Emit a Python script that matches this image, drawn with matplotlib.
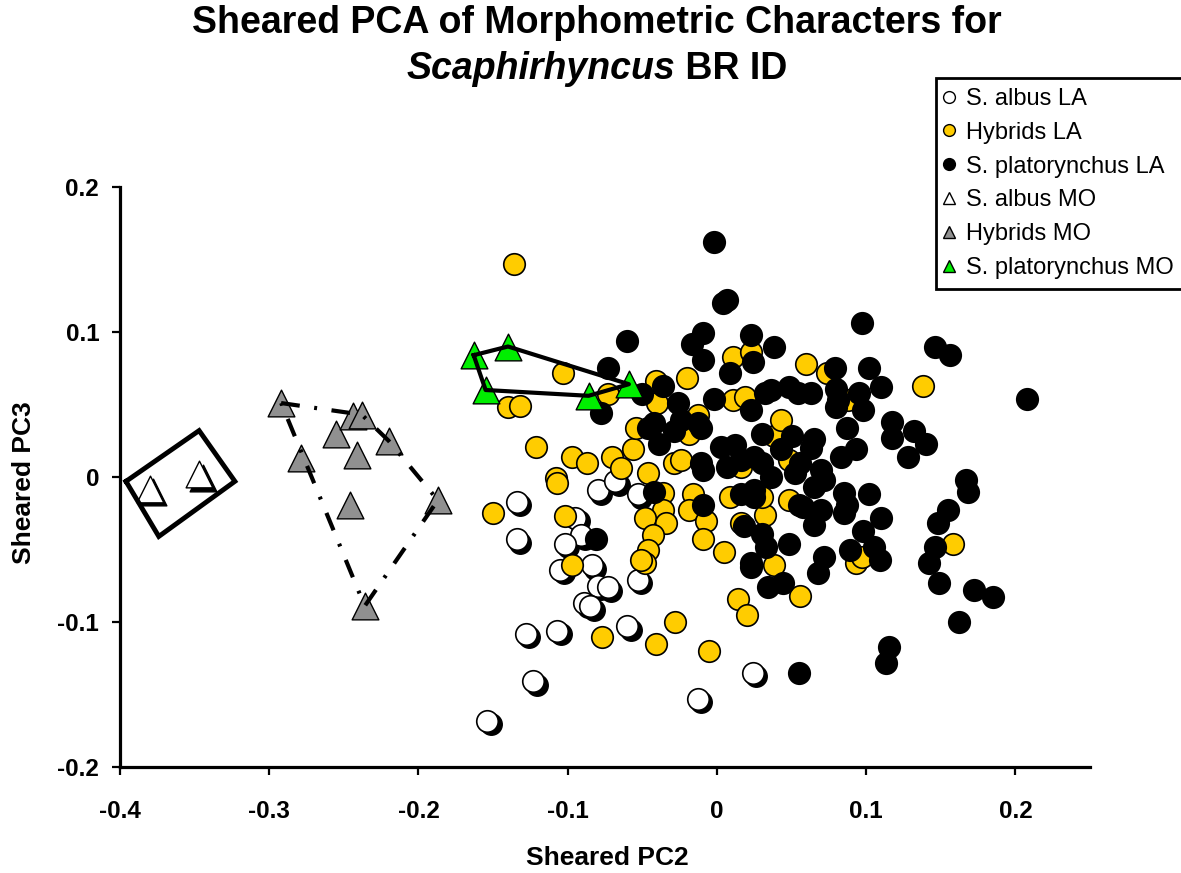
import numpy as np
import matplotlib
matplotlib.use("Agg")
import matplotlib.pyplot as plt
import matplotlib.transforms as mtransforms
from matplotlib.lines import Line2D
from matplotlib.ticker import FixedLocator, FixedFormatter

plt.rcParams['font.family'] = ['Liberation Sans', 'DejaVu Sans']

# --- data (Sheared PC2, Sheared PC3) ---
albus_la_x = [-0.134, -0.134, -0.095, -0.091, -0.102, -0.105, -0.084, -0.080, -0.073, -0.089,
              -0.085, -0.080, -0.068, -0.053, -0.053, -0.128, -0.107, -0.060, -0.123, -0.154,
              -0.013, 0.024]
albus_la_y = [-0.017, -0.043, -0.028, -0.040, -0.046, -0.064, -0.061, -0.075, -0.076, -0.087,
              -0.089, -0.009, -0.003, -0.012, -0.071, -0.108, -0.106, -0.103, -0.141, -0.168,
              -0.153, -0.135]

hyb_la_x = [-0.136, -0.103, -0.140, -0.132, -0.121, -0.097, -0.087, -0.070, -0.064, -0.056,
            -0.046, -0.073, -0.041, -0.020, -0.040, -0.054, -0.029, -0.024, 0.011, 0.023,
            0.060, 0.074, 0.011, 0.019, -0.013, -0.019, -0.108, 0.038, 0.043, 0.016,
            0.048, -0.036, -0.036, -0.048, -0.034, -0.043, -0.046, -0.048, -0.016, -0.019,
            -0.007, -0.009, 0.005, 0.009, 0.032, 0.048, 0.038, 0.014, 0.020, 0.056,
            -0.028, -0.077, -0.041, -0.005, -0.150, -0.107, -0.102, -0.097, 0.088, 0.138,
            0.158, 0.093, 0.097, 0.030, 0.016, -0.051]
hyb_la_y = [0.147, 0.072, 0.048, 0.049, 0.021, 0.014, 0.010, 0.014, 0.006, 0.019,
            0.003, 0.057, 0.066, 0.068, 0.051, 0.034, 0.010, 0.012, 0.083, 0.086,
            0.078, 0.072, 0.053, 0.055, 0.043, 0.030, -0.001, 0.028, 0.039, 0.007,
            0.012, -0.011, -0.023, -0.028, -0.032, -0.040, -0.050, -0.059, -0.012, -0.023,
            -0.030, -0.043, -0.052, -0.014, -0.026, -0.016, -0.061, -0.084, -0.095, -0.082,
            -0.100, -0.110, -0.115, -0.120, -0.025, -0.004, -0.027, -0.061, 0.053, 0.063,
            -0.046, -0.059, -0.055, -0.014, -0.032, -0.057]

plat_la_x = [-0.002, 0.004, 0.007, -0.060, -0.009, -0.017, -0.009, 0.023, 0.038, 0.009,
             0.024, -0.073, -0.078, -0.050, -0.036, -0.002, -0.026, -0.024, -0.046, -0.039,
             -0.011, 0.023, 0.036, 0.048, 0.063, 0.079, 0.080, 0.030, 0.050, 0.043,
             0.065, 0.003, -0.011, 0.007, 0.025, 0.056, 0.097, 0.146, 0.156, 0.208,
             0.102, 0.110, 0.080, 0.098, 0.087, 0.117, 0.117, 0.132, 0.140, 0.128,
             0.093, 0.083, 0.167, 0.168, 0.155, 0.148, 0.146, 0.142, 0.149, 0.172,
             0.185, 0.162, 0.115, 0.113, 0.102, 0.110, 0.087, 0.098, 0.089, 0.109,
             0.072, 0.068, 0.065, 0.070, 0.058, 0.055, -0.081, -0.042, -0.009, 0.016,
             0.025, 0.018, 0.030, 0.033, 0.023, 0.048, 0.034, 0.044, 0.055, 0.065,
             0.036, 0.052, 0.072, 0.063, 0.081, 0.085, 0.070, 0.085, 0.012,
             -0.042, -0.029, -0.013, 0.016, 0.032, 0.054, 0.095, 0.030, 0.025, -0.009,
             0.105, 0.023]
plat_la_y = [0.162, 0.120, 0.122, 0.094, 0.099, 0.092, 0.081, 0.098, 0.090, 0.072,
             0.079, 0.075, 0.044, 0.057, 0.063, 0.054, 0.051, 0.039, 0.034, 0.023,
             0.034, 0.046, 0.060, 0.062, 0.058, 0.075, 0.048, 0.030, 0.028, 0.019,
             0.026, 0.021, 0.010, 0.007, 0.014, 0.010, 0.106, 0.090, 0.084, 0.054,
             0.075, 0.062, 0.061, 0.046, 0.034, 0.038, 0.027, 0.032, 0.023, 0.014,
             0.019, 0.014, -0.002, -0.010, -0.023, -0.032, -0.048, -0.059, -0.073, -0.078,
             -0.083, -0.100, -0.117, -0.128, -0.012, -0.028, -0.019, -0.037, -0.050, -0.057,
             -0.055, -0.066, -0.007, 0.005, -0.021, -0.135, -0.043, -0.010, -0.019, -0.012,
             -0.014, -0.034, -0.039, -0.048, -0.062, -0.046, -0.076, -0.073, -0.019, -0.033,
             0.000, 0.003, -0.002, 0.020, 0.053, -0.011, -0.023, -0.025, 0.022,
             0.037, 0.032, 0.037, 0.012, 0.058, 0.058, 0.058, 0.010, -0.009, 0.005,
             -0.048, -0.059]

albus_mo_x = [-0.380, -0.347]
albus_mo_y = [-0.008, 0.002]

hyb_mo_x = [-0.292, -0.279, -0.255, -0.244, -0.238, -0.241, -0.220, -0.246, -0.187, -0.236]
hyb_mo_y = [0.051, 0.013, 0.030, 0.042, 0.043, 0.015, 0.025, -0.019, -0.016, -0.089]
hyb_mo_hull = [0, 4, 6, 8, 9, 0]

plat_mo_x = [-0.163, -0.140, -0.155, -0.086, -0.059]
plat_mo_y = [0.084, 0.090, 0.060, 0.056, 0.064]
plat_mo_hull = [0, 1, 4, 3, 2, 0]

albus_mo_box_x = [-0.396, -0.347, -0.323, -0.374, -0.396]
albus_mo_box_y = [-0.003, 0.032, -0.003, -0.041, -0.003]

xticks = [-0.4, -0.3, -0.2, -0.1, 0.0, 0.1, 0.2]
xtick_labels = ['-0.4', '-0.3', '-0.2', '-0.1', '0', '0.1', '0.2']
yticks = [-0.2, -0.1, 0.0, 0.1, 0.2]
ytick_labels = ['-0.2', '-0.1', '0', '0.1', '0.2']

legend_labels = ['S. albus LA', 'Hybrids LA', 'S. platorynchus LA',
                 'S. albus MO', 'Hybrids MO', 'S. platorynchus MO']

W, H = 1181, 873
fig = plt.figure(figsize=(W / 100, H / 100), dpi=100)
ax = fig.add_axes([120 / W, 1 - 767 / H, 970 / W, 580 / H])

yellow = '#FFCC00'
green = '#00EE00'
gray = '#909090'
circ_s = 240
tri_s = 370

shadow = mtransforms.offset_copy(ax.transData, fig=fig, x=3.5, y=-3.5, units='dots')

# circles (LA)
ax.scatter(albus_la_x, albus_la_y, s=circ_s, c='black', edgecolors='black',
           linewidths=1, transform=shadow, zorder=2)
ax.scatter(albus_la_x, albus_la_y, s=circ_s, c='white', edgecolors='black',
           linewidths=1.2, zorder=2.1)
ax.scatter(hyb_la_x, hyb_la_y, s=circ_s, c=yellow, edgecolors='black',
           linewidths=1.2, zorder=3)
ax.scatter(plat_la_x, plat_la_y, s=circ_s, c='black', edgecolors='black',
           linewidths=1.2, zorder=4)

# triangles (MO)
ax.scatter(albus_mo_x, albus_mo_y, s=tri_s, marker='^', c='black', edgecolors='black',
           linewidths=1, transform=shadow, zorder=5)
ax.scatter(albus_mo_x, albus_mo_y, s=tri_s, marker='^', c='white', edgecolors='black',
           linewidths=1, zorder=5.1)
ax.scatter(hyb_mo_x, hyb_mo_y, s=tri_s, marker='^', c=gray, edgecolors='black',
           linewidths=1, zorder=5.2)
ax.scatter(plat_mo_x, plat_mo_y, s=tri_s, marker='^', c=green, edgecolors='black',
           linewidths=1, zorder=5.3)

# enclosing outlines
ax.plot(albus_mo_box_x, albus_mo_box_y, color='black', lw=3.5, zorder=6,
        solid_joinstyle='miter')
ax.plot([hyb_mo_x[i] for i in hyb_mo_hull], [hyb_mo_y[i] for i in hyb_mo_hull],
        color='black', lw=3, linestyle=(0, (4.5, 3.5, 0.7, 3.5)), zorder=6)
ax.plot([plat_mo_x[i] for i in plat_mo_hull], [plat_mo_y[i] for i in plat_mo_hull],
        color='black', lw=3, zorder=6)

ax.set_xlim(-0.4, 0.25)
ax.set_ylim(-0.2, 0.2)
ax.xaxis.set_major_locator(FixedLocator(xticks))
ax.xaxis.set_major_formatter(FixedFormatter(xtick_labels))
ax.yaxis.set_major_locator(FixedLocator(yticks))
ax.yaxis.set_major_formatter(FixedFormatter(ytick_labels))
for side in ['top', 'right']:
    ax.spines[side].set_visible(False)
for side in ['left', 'bottom']:
    ax.spines[side].set_linewidth(2.3)
ax.tick_params(axis='both', direction='out', length=6, width=1.6,
               labelsize=17.5)
ax.tick_params(axis='x', pad=18)
ax.tick_params(axis='y', pad=9)
for lab in ax.get_xticklabels() + ax.get_yticklabels():
    lab.set_fontweight('bold')

ax.set_xlabel('Sheared PC2', fontsize=19, fontweight='bold')
ax.set_ylabel('Sheared PC3', fontsize=19, fontweight='bold')
ax.xaxis.set_label_coords((607 - 120) / 970, (767 - 846) / 580)
ax.yaxis.set_label_coords((36 - 120) / 970, 0.49)

# title
cx = 597 / W
fig.text(cx, 1 - 33 / H, 'Sheared PCA of Morphometric Characters for',
         ha='center', va='baseline', fontsize=27, fontweight='bold')
t1 = fig.text(0, 1 - 79 / H, 'Scaphirhyncus', ha='left', va='baseline',
              fontsize=27, fontweight='bold', style='italic')
t2 = fig.text(0, 1 - 79 / H, ' BR ID', ha='left', va='baseline',
              fontsize=27, fontweight='bold')
fig.canvas.draw()
r = fig.canvas.get_renderer()
w1 = t1.get_window_extent(r).width
w2 = t2.get_window_extent(r).width
start = cx * W - (w1 + w2) / 2
t1.set_x(start / W)
t2.set_x((start + w1) / W)

# legend
handles = [
    Line2D([], [], ls='none', marker='o', ms=8.5, mfc='white', mec='black', mew=1),
    Line2D([], [], ls='none', marker='o', ms=8.5, mfc=yellow, mec='black', mew=1),
    Line2D([], [], ls='none', marker='o', ms=8.5, mfc='black', mec='black', mew=1),
    Line2D([], [], ls='none', marker='^', ms=8.5, mfc='white', mec='black', mew=1),
    Line2D([], [], ls='none', marker='^', ms=8.5, mfc=gray, mec='black', mew=1),
    Line2D([], [], ls='none', marker='^', ms=8.5, mfc=green, mec='black', mew=1),
]
leg = fig.legend(handles, legend_labels, loc='upper left',
                 bbox_to_anchor=(936 / W, 1 - 78 / H), borderaxespad=0,
                 fontsize=17, frameon=True, fancybox=False, handlelength=0.3,
                 handletextpad=0.55, labelspacing=0.5, borderpad=0.42,
                 edgecolor='black', framealpha=1)
leg.get_frame().set_linewidth(2)

fig.savefig('out.png', dpi=100)
